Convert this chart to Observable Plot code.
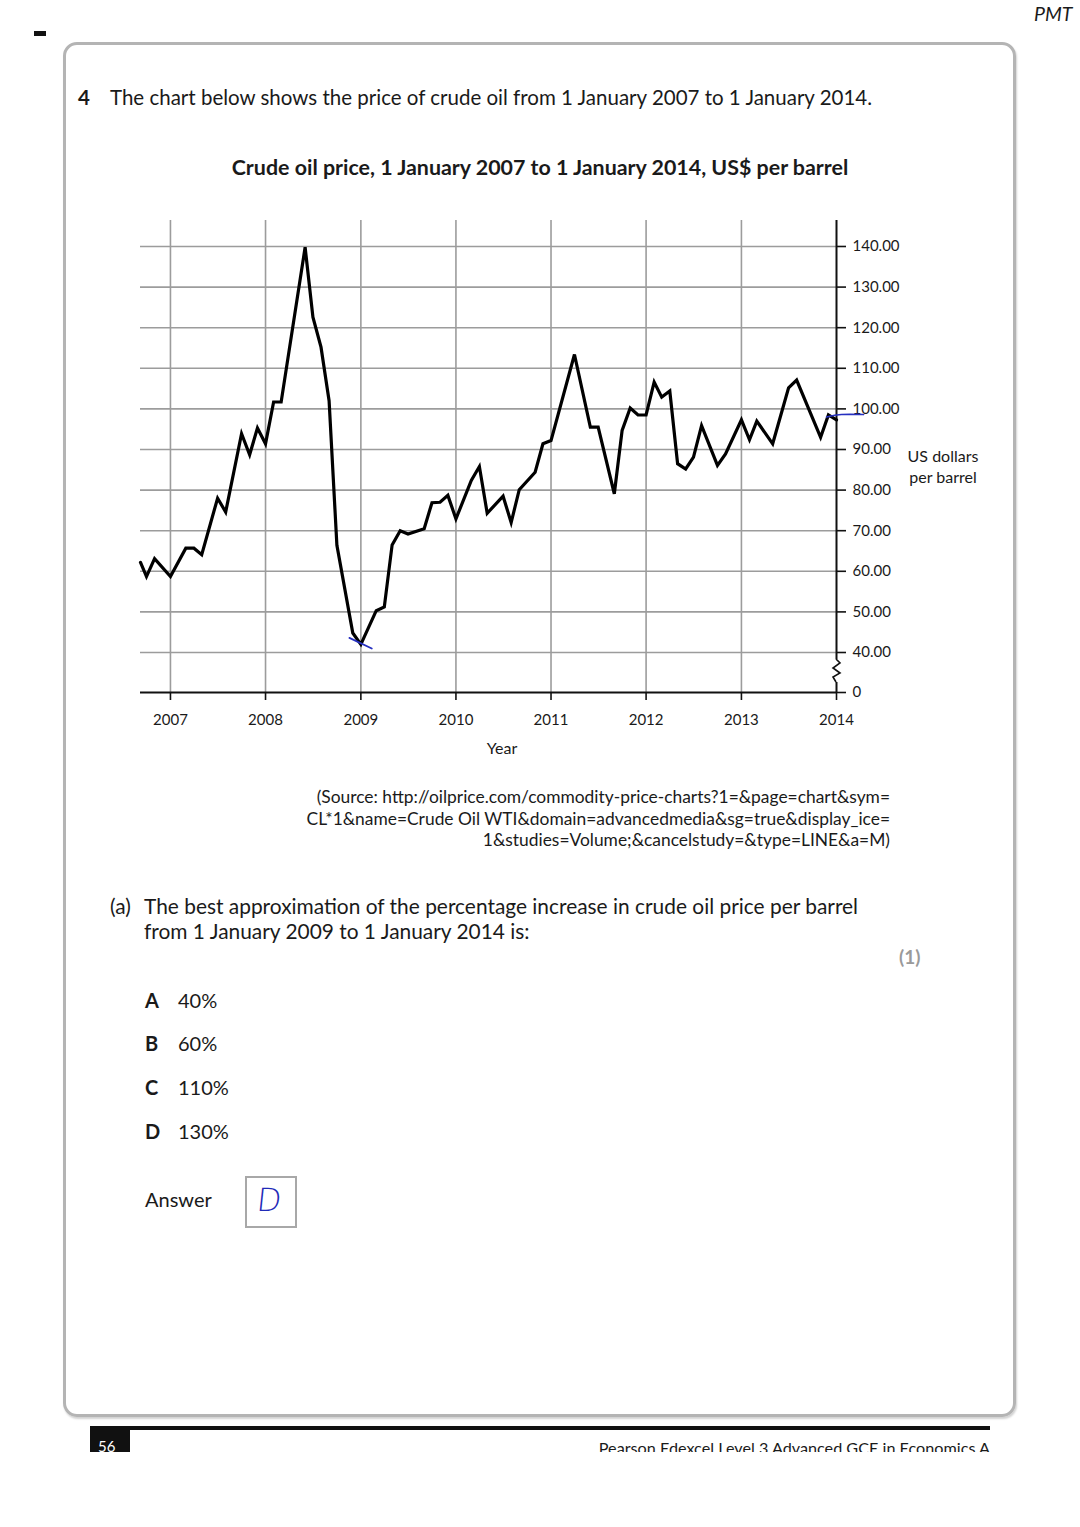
<!DOCTYPE html>
<html><head><meta charset="utf-8">
<script src="https://cdn.jsdelivr.net/npm/d3@7"></script>
<script src="https://cdn.jsdelivr.net/npm/@observablehq/plot@0.6"></script>
<style>
body{margin:0;background:#fff;font-family:Lato,"Open Sans",sans-serif;color:#1a1a1a}
#page{position:relative;width:1080px;height:1527px;overflow:hidden;background:#fff}
.t{position:absolute;white-space:nowrap;line-height:1.2}
#chart{position:absolute;left:0;top:200px}
</style></head>
<body><div id="page">
<div style="position:absolute;left:34px;top:31px;width:12px;height:5px;background:#111"></div>
<div class="t" style="left:1034px;top:2px;font-size:19.5px;font-style:italic">PMT</div>
<div style="position:absolute;left:63px;top:42px;width:953px;height:1375px;box-sizing:border-box;border:3px solid #b4b4b4;border-radius:14px;box-shadow:1px 2px 2px rgba(0,0,0,0.18)"></div>
<div class="t" style="left:78px;top:85px;font-size:20.5px;font-weight:bold">4</div>
<div class="t" style="left:110px;top:85px;font-size:20.5px">The chart below shows the price of crude oil from 1 January 2007 to 1 January 2014.</div>
<div class="t" style="left:0;width:1080px;text-align:center;top:155px;font-size:21.4px;font-weight:bold">Crude oil price, 1 January 2007 to 1 January 2014, US$ per barrel</div>
<div id="chart"></div>
<div class="t" style="left:452px;width:100px;text-align:center;top:738px;font-size:16px">Year</div>
<div class="t" style="left:893px;width:100px;text-align:center;top:445px;font-size:16px;line-height:21px">US dollars<br>per barrel</div>
<div class="t" style="right:190px;top:786px;font-size:17.4px;line-height:21.5px;text-align:right">(Source: http://oilprice.com/commodity-price-charts?1=&amp;page=chart&amp;sym=<br>CL*1&amp;name=Crude Oil WTI&amp;domain=advancedmedia&amp;sg=true&amp;display_ice=<br>1&amp;studies=Volume;&amp;cancelstudy=&amp;type=LINE&amp;a=M)</div>
<div class="t" style="left:110px;top:893px;font-size:20.9px;line-height:25px">(a)</div>
<div class="t" style="left:144px;top:893px;font-size:20.9px;line-height:25px">The best approximation of the percentage increase in crude oil price per barrel<br>from 1 January 2009 to 1 January 2014 is:</div>
<div class="t" style="left:899px;top:946px;font-size:19px;font-weight:bold;color:#9a9a9a">(1)</div>
<div id="opts"></div>
<div class="t" style="left:145px;top:1187px;font-size:20px">Answer</div>
<div style="position:absolute;left:245px;top:1176px;width:52px;height:52px;box-sizing:border-box;border:2px solid #a8a8a8"></div>
<div class="t" style="left:257px;top:1181px;font-size:32px;color:#1f2bb8;font-family:'DejaVu Sans';font-weight:300;transform:skewX(-6deg)">D</div>
<div style="position:absolute;left:90px;top:1426px;width:900px;height:4px;background:#111"></div>
<div style="position:absolute;left:90px;top:1430px;width:40px;height:22px;background:#111;overflow:hidden"><div class="t" style="left:8px;top:7px;font-size:15px;color:#fff">56</div></div>
<div style="position:absolute;left:500px;top:1430px;width:490px;height:22px;overflow:hidden"><div class="t" style="right:0;top:8px;font-size:16.2px">Pearson Edexcel Level 3 Advanced GCE in Economics A</div></div>
</div>
<script>
// ---- data (monthly readings, US$ per barrel) ----
const dates = ["2006-09-08","2006-10-01","2006-11-01","2007-01-01","2007-03-01","2007-04-01","2007-05-01","2007-07-01","2007-08-01","2007-10-01","2007-11-01","2007-12-01",
"2008-01-01","2008-02-01","2008-03-01","2008-06-01","2008-07-01","2008-08-01","2008-09-01","2008-10-01","2008-12-01",
"2009-01-01","2009-03-01","2009-04-01","2009-05-01","2009-06-01","2009-07-01","2009-09-01","2009-10-01","2009-11-01","2009-12-01",
"2010-01-01","2010-03-01","2010-04-01","2010-05-01","2010-07-01","2010-08-01","2010-09-01","2010-11-01","2010-12-01",
"2011-01-01","2011-04-01","2011-06-01","2011-07-01","2011-09-01","2011-10-01","2011-11-01","2011-12-01",
"2012-01-01","2012-02-01","2012-03-01","2012-04-01","2012-05-01","2012-06-01","2012-07-01","2012-08-01","2012-10-01","2012-11-01",
"2013-01-01","2013-02-01","2013-03-01","2013-05-01","2013-07-01","2013-08-01","2013-11-01","2013-12-01","2014-01-01"];
const prices = [62.2,58.7,63.1,58.7,65.7,65.7,64.1,78.0,74.6,93.9,88.7,95.3,
91.4,101.7,101.7,139.8,122.6,115.2,102.0,66.4,44.8,
42.0,50.3,51.2,66.5,70.0,69.2,70.5,76.9,77.0,78.7,
72.9,82.4,85.8,74.3,78.5,72.0,80.1,84.4,91.4,
92.2,113.4,95.5,95.5,79.1,94.7,100.2,98.5,
98.5,106.6,102.9,104.4,86.5,85.2,88.1,95.9,86.1,88.9,
97.3,92.4,97.0,91.4,105.2,107.1,93.0,98.5,97.3];
const yearTicks = [2007,2008,2009,2010,2011,2012,2013,2014];
const yTickValues = [0,40,50,60,70,80,90,100,110,120,130,140];
const yGridValues = [40,50,60,70,80,90,100,110,120,130,140];
const yTop = 146.4;          // top of the plotting frame
const breakLow = 10, breakHigh = 33; // axis break between 0 and 40
// handwritten pen marks on the original
const penLowDates = ["2008-11-18","2009-02-12"], penLowPrices = [43.6, 41.0];
const penEndDates = ["2013-11-24","2014-01-20","2014-04-15"], penEndPrices = [98.0, 98.6, 98.6];

// options list
const optLetters = ["A","B","C","D"], optValues = ["40%","60%","110%","130%"];
const optCY = [1001,1044,1088,1132];
const opts = document.getElementById("opts");
optLetters.forEach((L,i)=>{
  opts.insertAdjacentHTML("beforeend",
   `<div class="t" style="left:145px;top:${optCY[i]-13}px;font-size:20px;font-weight:bold">${L}</div>`+
   `<div class="t" style="left:178px;top:${optCY[i]-13}px;font-size:20px">${optValues[i]}</div>`);
});

const data = dates.map((d,i)=>({date:new Date(d), price:prices[i]}));
const yearDates = yearTicks.map(y=>new Date(Date.UTC(y,0,1)));
const xStart = new Date("2006-09-08"), xEnd = new Date("2014-01-01");
const pen1 = penLowDates.map((d,i)=>({date:new Date(d), price:penLowPrices[i]}));
const pen2 = penEndDates.map((d,i)=>({date:new Date(d), price:penEndPrices[i]}));

const chart = Plot.plot({
  width:1080, height:570,
  marginLeft:140, marginRight:244, marginTop:20, marginBottom:78,
  style:{fontFamily:"Lato, sans-serif", fontSize:"15px", color:"#1a1a1a", background:"transparent", overflow:"visible"},
  x:{type:"utc", domain:[xStart, xEnd]},
  y:{type:"linear", domain:[0,40,yTop], range:[492,452,20]},
  marks:[
    Plot.gridY(yGridValues, {stroke:"#9c9c9c", strokeOpacity:1, strokeWidth:1.6}),
    Plot.gridX(yearDates.slice(0,-1), {stroke:"#9c9c9c", strokeOpacity:1, strokeWidth:1.6}),
    Plot.ruleY([0], {stroke:"#111", strokeWidth:2}),
    Plot.ruleX([xEnd], {y1:0, y2:breakLow, stroke:"#111", strokeWidth:2}),
    Plot.ruleX([xEnd], {y1:breakHigh, y2:yTop, stroke:"#111", strokeWidth:2}),
    Plot.axisX(yearDates, {anchor:"bottom", tickSize:8, tickPadding:14, tickFormat:d3.utcFormat("%Y"), fontSize:15, label:null, stroke:"#111", strokeWidth:1.6}),
    Plot.axisY(yTickValues, {anchor:"right", tickSize:9, tickPadding:7, tickFormat:d=>d===0?"0":d.toFixed(2), fontSize:15, label:null, stroke:"#111", strokeWidth:1.6}),
    Plot.line(data, {x:"date", y:"price", stroke:"#000", strokeWidth:3.2, strokeLinejoin:"miter", strokeMiterlimit:4}),
    Plot.line(pen1, {x:"date", y:"price", stroke:"#2630c0", strokeWidth:1.8}),
    Plot.line(pen2, {x:"date", y:"price", stroke:"#2630c0", strokeWidth:1.6, curve:"natural"})
  ]
});
document.getElementById("chart").appendChild(chart);

// zig-zag axis break drawn with the chart's scales
const sx = chart.scale("x"), sy = chart.scale("y");
const x0 = sx.apply(xEnd);
const zig = [breakHigh, 29, 24, 19, 15, breakLow];
const off = [0, 4, -3, 4, -3, 0];
d3.select(chart).append("path")
  .attr("d", d3.line()(zig.map((v,i)=>[x0+off[i], sy.apply(v)])))
  .attr("fill","none").attr("stroke","#111").attr("stroke-width",1.6);
</script>
</body></html>
